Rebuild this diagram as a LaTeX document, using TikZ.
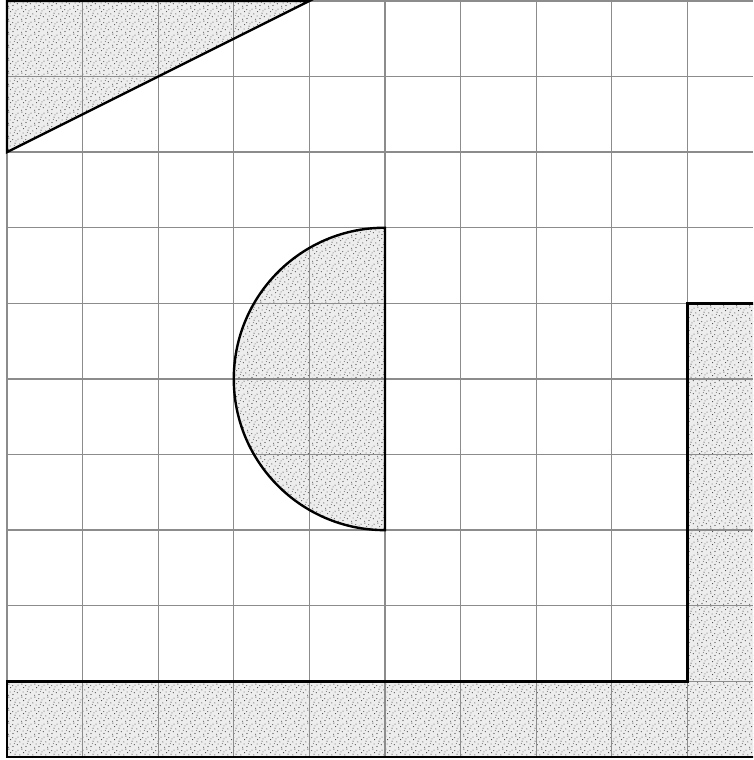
\documentclass[tikz,border=0pt]{standalone}
\usepackage{tikz}
\usetikzlibrary{patterns}

\pgfdeclarepatternformonly{stipple}{\pgfqpoint{0pt}{0pt}}{\pgfqpoint{5pt}{5pt}}{\pgfqpoint{5pt}{5pt}}{
  \pgfpathcircle{\pgfqpoint{0.4pt}{0.6pt}}{0.22pt}
  \pgfpathcircle{\pgfqpoint{2.1pt}{1.3pt}}{0.22pt}
  \pgfpathcircle{\pgfqpoint{3.8pt}{0.3pt}}{0.22pt}
  \pgfpathcircle{\pgfqpoint{1.2pt}{2.7pt}}{0.22pt}
  \pgfpathcircle{\pgfqpoint{3.1pt}{2.4pt}}{0.22pt}
  \pgfpathcircle{\pgfqpoint{4.6pt}{3.3pt}}{0.22pt}
  \pgfpathcircle{\pgfqpoint{0.3pt}{4.1pt}}{0.22pt}
  \pgfpathcircle{\pgfqpoint{2.4pt}{4.3pt}}{0.22pt}
  \pgfpathcircle{\pgfqpoint{3.9pt}{4.7pt}}{0.22pt}
  \pgfpathcircle{\pgfqpoint{1.6pt}{3.6pt}}{0.18pt}
  \pgfpathcircle{\pgfqpoint{4.4pt}{1.6pt}}{0.18pt}
  \pgfpathcircle{\pgfqpoint{0.9pt}{1.8pt}}{0.18pt}
  \pgfusepath{fill}
}

\tikzset{
  gridline/.style={draw=black!45, line width=0.5pt},
  outline/.style={draw=black, line width=0.9pt, line join=miter},
  stippled/.style={preaction={fill=black!7}, pattern=stipple, pattern color=black!75}
}

\begin{document}
\begin{tikzpicture}
  \useasboundingbox (-0.092,-0.04) rectangle (9.868,10.012);
  \clip (-0.092,-0.04) rectangle (9.868,10.012);
  %%%%%%%%%%%%%%%%%%%%%%%%%%%%%%%%%%%%%%%%%%%%%%%
  % shaded regions
  \fill[stippled] (0,10) -- (4,10) -- (0,8) -- cycle;
  \fill[stippled] (5,7) arc (90:270:2) -- cycle;
  \fill[stippled] (0,0) -- (10.5,0) -- (10.5,6) -- (9,6) -- (9,1) -- (0,1) -- cycle;
  %%%%%%%%%%%%%%%%%%%%%%%%%%%%%%%%%%%%%%%%%%%%%%%
  % square grid
  \draw[gridline] (0,0) grid (9.868,10);
  %%%%%%%%%%%%%%%%%%%%%%%%%%%%%%%%%%%%%%%%%%%%%%%
  % outlines
  \draw[outline] (0,10) -- (4,10) -- (0,8) -- cycle;
  \draw[outline] (5,7) arc (90:270:2) -- cycle;
  \draw[outline] (10.5,0) -- (0,0) -- (0,1) -- (9,1) -- (9,6) -- (10.5,6);
  %%%%%%%%%%%%%%%%%%%%%%%%%%%%%%%%%%%%%%%%%%%%%%%
\end{tikzpicture}
\end{document}
